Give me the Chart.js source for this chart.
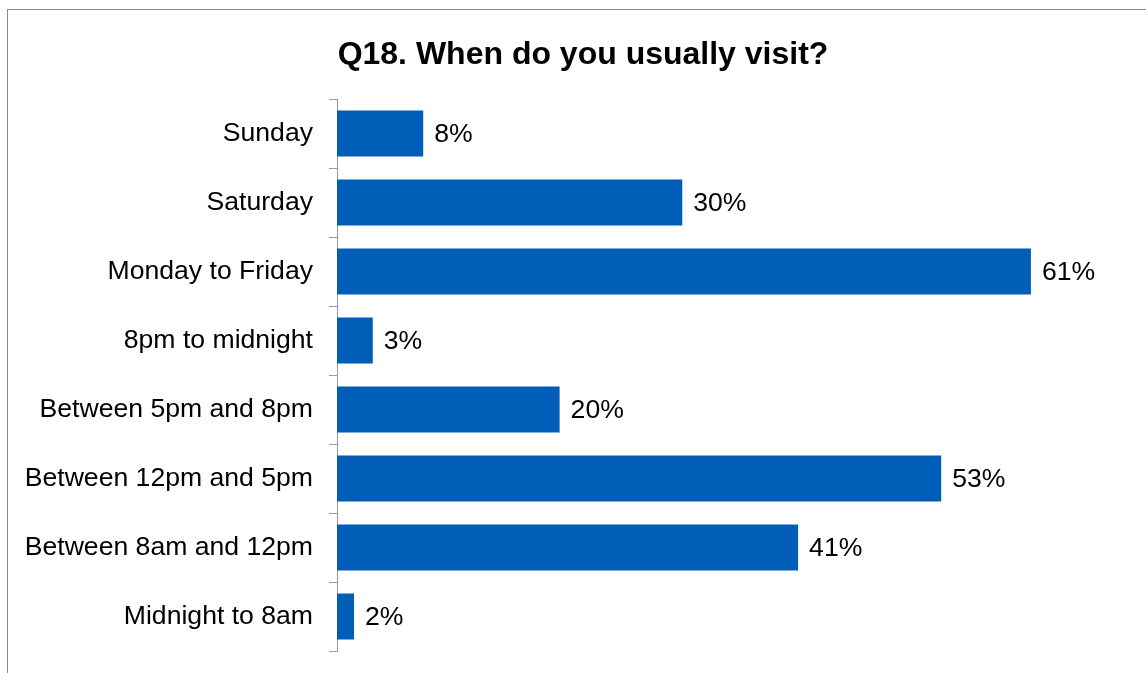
<!DOCTYPE html>
<html>
<head>
<meta charset="utf-8">
<script src="https://cdn.jsdelivr.net/npm/chart.js@4/dist/chart.umd.min.js"></script>
<style>
  html, body { margin: 0; padding: 0; background: #fff; overflow: hidden; width: 1146px; height: 673px; }
  #frame { position: absolute; left: 7px; top: 9px; width: 1150px; height: 673px;
           border-left: 1px solid #8a8a8a; border-top: 1px solid #8a8a8a; }
  canvas { display: block; }
</style>
</head>
<body>
<div id="frame"><canvas id="c" width="1150" height="673"></canvas></div>
<script>
const chartTitle = "Q18. When do you usually visit?";
const categories = [
  "Sunday",
  "Saturday",
  "Monday to Friday",
  "8pm to midnight",
  "Between 5pm and 8pm",
  "Between 12pm and 5pm",
  "Between 8am and 12pm",
  "Midnight to 8am"
];
const percentValues = [7.59, 30.4, 61.1, 3.15, 19.6, 53.2, 40.6, 1.5];
const axisMin = 0;
const axisMax = 70;

const FONT = 'Arial, "Liberation Sans", sans-serif';

const valueLabelPlugin = {
  id: 'valueLabels',
  afterDatasetsDraw(chart) {
    const ctx = chart.ctx;
    const meta = chart.getDatasetMeta(0);
    ctx.save();
    ctx.font = '26.6px ' + FONT;
    ctx.fillStyle = '#000';
    ctx.textAlign = 'left';
    ctx.textBaseline = 'middle';
    meta.data.forEach((bar, i) => {
      const v = chart.data.datasets[0].data[i];
      ctx.fillText(Math.round(v) + '%', bar.x + 11, bar.y + 1);
    });
    ctx.restore();
  }
};

// centre the title across the whole chart frame (not only the padded layout box)
const titleCenterPlugin = {
  id: 'titleCenter',
  afterLayout(chart) {
    const tb = chart.titleBlock;
    if (tb) { tb.left = 0; tb.right = chart.width; }
  }
};

new Chart(document.getElementById('c'), {
  type: 'bar',
  data: {
    labels: categories,
    datasets: [{
      data: percentValues,
      backgroundColor: '#005EB8',
      borderWidth: 0,
      categoryPercentage: 1.0,
      barPercentage: 0.667
    }]
  },
  options: {
    indexAxis: 'y',
    responsive: false,
    animation: false,
    devicePixelRatio: 1,
    layout: { padding: { left: 0, right: 26, top: 0, bottom: 32 } },
    plugins: {
      legend: { display: false },
      tooltip: { enabled: false },
      title: {
        display: true,
        text: chartTitle,
        color: '#000',
        font: { family: FONT, size: 32, weight: 'bold', lineHeight: 1.2 },
        padding: { top: 26, bottom: 24.6 }
      }
    },
    scales: {
      x: {
        display: false,
        min: axisMin,
        max: axisMax
      },
      y: {
        afterFit(scale) { scale.width = 329; },
        grid: {
          drawOnChartArea: false,
          drawTicks: true,
          tickLength: 8,
          color: '#9a9a9a',
          lineWidth: 1,
          offset: true
        },
        border: { display: true, color: '#9a9a9a', width: 1 },
        ticks: {
          color: '#000',
          padding: 16,
          font: { family: FONT, size: 26.6 },
          autoSkip: false
        }
      }
    }
  },
  plugins: [valueLabelPlugin, titleCenterPlugin]
});
</script>
</body>
</html>
